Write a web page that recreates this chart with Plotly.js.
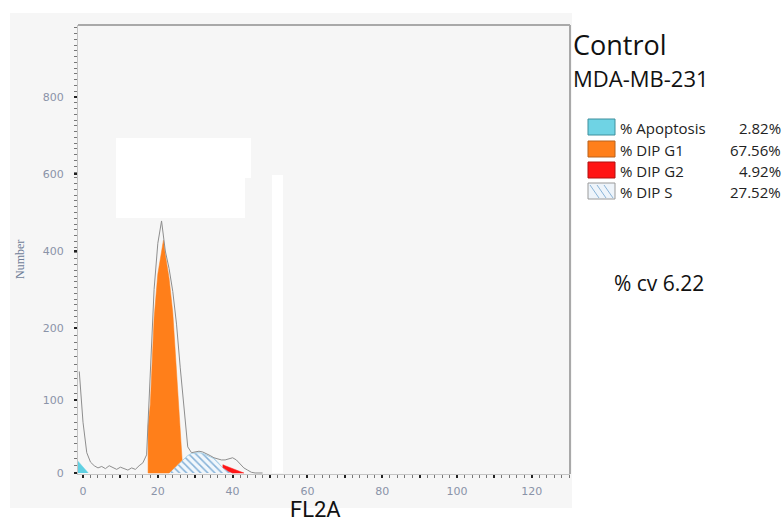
<!DOCTYPE html>
<html>
<head>
<meta charset="utf-8">
<script src="https://cdn.plot.ly/plotly-3.0.1.min.js"></script>
<style>
  html, body { margin: 0; padding: 0; background: #ffffff; }
  #chart { width: 783px; height: 523px; }
</style>
</head>
<body>
<div id="chart"></div>
<script>
// ---- DNA histogram (FL2A channel vs. event count) ----
const chan   = [-1, 0, 1, 2, 3, 4, 5, 6, 7, 8, 9, 10, 11, 12, 13, 14, 15, 16, 17, 18, 19, 20,
                21, 22, 23, 24, 25, 26, 27, 28, 29, 30, 31, 32, 33, 34, 35, 36, 37, 38, 39, 40,
                41, 42, 43, 44, 45, 46, 47, 48];
const counts = [140, 70, 28, 15, 10, 7, 9, 6, 10, 7, 5, 8, 6, 4, 7, 5, 10, 14, 25, 130, 300, 420,
                478, 400, 355, 295, 210, 145, 85, 36, 28, 29, 30, 29, 27, 24, 21, 19, 18, 18, 20, 21,
                18, 12, 7, 4, 1, 0, 0, 0];

// ---- fitted components ----
const apoX = [-2, 0, 1.4];
const apoY = [20, 9, 0];

const sX = [23, 24, 25, 26, 27, 28, 29, 30, 31, 32, 33, 34, 35, 36, 37, 38, 39, 40];
const sY = [0, 5, 10, 15, 20, 24, 27, 28, 28, 27, 25, 23, 20, 15, 9, 5, 2, 0];

const g1X = [17.4, 17.4, 18, 19, 20, 21, 21.5, 22, 23, 24, 25, 26, 26.5];
const g1Y = [0, 65, 95, 225, 340, 405, 428, 390, 330, 235, 130, 47, 0];

const g2X = [37.4, 37.4, 38, 39, 40, 41, 42, 43];
const g2Y = [0, 4, 5, 6, 6, 4, 2, 0];

// ---- legend / annotation text ----
const legendNames  = ['% Apoptosis', '% DIP G1', '% DIP G2', '% DIP S'];
const legendValues = ['2.82%', '67.56%', '4.92%', '27.52%'];
const cvText = '% cv 6.22';
const yTickVals = [0, 100, 200, 400, 600, 800];
const xTickVals = [0, 10, 20, 30, 40, 50, 60, 70, 80, 90, 100, 110, 120];

// y scale: linear to 200, compressed above 200
const K = 0.531;
const warp = v => (v <= 200 ? v : 200 + (v - 200) * K);

// S-phase level under the G1/G2 peaks (linear between channels)
function sAt(x) {
  if (x <= sX[0] || x >= sX[sX.length - 1]) return 0;
  for (let i = 0; i < sX.length - 1; i++) {
    if (x >= sX[i] && x <= sX[i + 1]) {
      const t = (x - sX[i]) / (sX[i + 1] - sX[i]);
      return sY[i] + t * (sY[i + 1] - sY[i]);
    }
  }
  return 0;
}

// polygon of a component stacked on the S phase
function stacked(xs, ys) {
  const top = xs.map((x, i) => [x, warp(sAt(x) + ys[i])]);
  const bot = xs.map(x => [x, warp(sAt(x))]).reverse();
  const pts = top.concat(bot);
  return { x: pts.map(p => p[0]), y: pts.map(p => p[1]) };
}

const g1Poly = stacked(g1X, g1Y);
const g2Poly = stacked(g2X, g2Y);

const traces = [
  { x: apoX, y: apoY.map(warp), type: 'scatter', mode: 'lines', fill: 'tozeroy',
    fillcolor: '#5fd0e2', line: { color: '#5fd0e2', width: 0.5 }, hoverinfo: 'skip' },
  { x: sX, y: sY.map(warp), type: 'scatter', mode: 'lines', fill: 'tozeroy',
    fillcolor: '#eef5fb',
    fillpattern: { shape: '\\', fgcolor: '#86b2d8', bgcolor: '#f1f7fc', size: 5, solidity: 0.3 },
    line: { color: '#a8d2ea', width: 1 }, hoverinfo: 'skip' },
  { x: g1Poly.x, y: g1Poly.y, type: 'scatter', mode: 'lines', fill: 'toself',
    fillcolor: '#ff7f1a', line: { color: '#ff7f1a', width: 0.5 }, hoverinfo: 'skip' },
  { x: g2Poly.x, y: g2Poly.y, type: 'scatter', mode: 'lines', fill: 'toself',
    fillcolor: '#ff1616', line: { color: '#ff1616', width: 0.5 }, hoverinfo: 'skip' },
  { x: chan, y: counts.map(warp), type: 'scatter', mode: 'lines',
    line: { color: '#8e8e8e', width: 1 }, hoverinfo: 'skip' }
];

// pixel -> paper helpers for the decorations (plot box: x 78..570, y 25..474)
const L = 78, R = 570, T = 25, B = 474;
const px = x => (x - L) / (R - L);
const py = y => (B - y) / (B - T);

const minorY = [];
for (let v = 10; v < 200; v += 10) minorY.push(warp(v));
for (let v = 215; v < 1000; v += 15) minorY.push(warp(v));

const shapes = [
  // grey panel behind the plot
  { type: 'rect', xref: 'paper', yref: 'paper', layer: 'below',
    x0: px(10), x1: px(572), y0: py(508), y1: py(13),
    fillcolor: '#f6f6f6', line: { width: 0 } },
  // blank patches inside the plot
  { type: 'rect', xref: 'paper', yref: 'paper', layer: 'below',
    x0: px(116), x1: px(251), y0: py(178), y1: py(138), fillcolor: '#ffffff', line: { width: 0 } },
  { type: 'rect', xref: 'paper', yref: 'paper', layer: 'below',
    x0: px(116), x1: px(245), y0: py(218), y1: py(177), fillcolor: '#ffffff', line: { width: 0 } },
  { type: 'rect', xref: 'paper', yref: 'paper', layer: 'below',
    x0: px(272), x1: px(283), y0: py(473), y1: py(175), fillcolor: '#ffffff', line: { width: 0 } },
  // top and right frame
  { type: 'line', xref: 'paper', yref: 'paper', x0: 0, x1: 1, y0: 1, y1: 1,
    line: { color: '#a9a9a9', width: 2 } },
  { type: 'line', xref: 'paper', yref: 'paper', x0: 1, x1: 1, y0: 0, y1: 1,
    line: { color: '#a9a9a9', width: 2 } }
];

// legend swatches
const swatchTops = [119, 141, 162, 183];
const swatchFill = ['#6fd3e4', '#ff7f1a', '#ff1414', '#eef4fa'];
const swatchLine = ['#3f8f9c', '#b8621c', '#b01010', '#9a9a9a'];
swatchTops.forEach((t, i) => {
  shapes.push({ type: 'rect', xref: 'paper', yref: 'paper',
    x0: px(588), x1: px(615), y0: py(t + 16), y1: py(t),
    fillcolor: swatchFill[i], line: { color: swatchLine[i], width: 1 } });
});
// hatch strokes in the S swatch
[[590, 600], [597, 607], [604, 614]].forEach(([a, b]) => {
  shapes.push({ type: 'line', xref: 'paper', yref: 'paper',
    x0: px(a), y0: py(185), x1: px(b - 1), y1: py(198),
    line: { color: '#8ab4d8', width: 1 } });
});

const annotations = [
  { text: 'Control', x: px(572), y: py(44), xref: 'paper', yref: 'paper',
    xanchor: 'left', yanchor: 'middle', showarrow: false, borderpad: 0,
    font: { family: 'Open Sans', size: 27, color: '#111' } },
  { text: 'MDA-MB-231', x: px(572), y: py(78), xref: 'paper', yref: 'paper',
    xanchor: 'left', yanchor: 'middle', showarrow: false, borderpad: 0,
    font: { family: 'Open Sans', size: 22, color: '#111' } },
  { text: cvText, x: px(612), y: py(283), xref: 'paper', yref: 'paper',
    xanchor: 'left', yanchor: 'middle', showarrow: false,
    font: { family: 'Open Sans', size: 21, color: '#111' } },
  { text: 'Number', x: px(20), y: py(260), xref: 'paper', yref: 'paper',
    xanchor: 'center', yanchor: 'middle', textangle: -90, showarrow: false,
    font: { family: 'Liberation Serif', size: 12, color: '#6f7d96' } },
  { text: 'FL2A', x: px(315), y: py(509), xref: 'paper', yref: 'paper',
    xanchor: 'center', yanchor: 'middle', showarrow: false,
    font: { family: 'Liberation Sans Narrow, Roboto', size: 22, color: '#111' } }
];
legendNames.forEach((n, i) => {
  const cy = swatchTops[i] + 9;
  annotations.push({ text: n, x: px(619), y: py(cy), xref: 'paper', yref: 'paper',
    xanchor: 'left', yanchor: 'middle', showarrow: false, borderpad: 0,
    font: { family: 'Open Sans', size: 15, color: '#222' } });
  annotations.push({ text: legendValues[i], x: px(782), y: py(cy), xref: 'paper', yref: 'paper',
    xanchor: 'right', yanchor: 'middle', showarrow: false, borderpad: 0,
    font: { family: 'Open Sans', size: 15, color: '#222' } });
});

const layout = {
  width: 783, height: 523,
  margin: { l: L, r: 783 - R, t: T, b: 523 - B, pad: 0 },
  paper_bgcolor: '#ffffff',
  plot_bgcolor: 'rgba(0,0,0,0)',
  showlegend: false,
  xaxis: {
    range: [-1.34, 130.2], showgrid: false, zeroline: false,
    showline: true, linecolor: '#c4c4c4', linewidth: 1,
    tickmode: 'array', tickvals: xTickVals,
    ticktext: xTickVals.map(v => (v % 20 === 0 ? String(v) : '')),
    ticks: 'outside', ticklen: 3, tickwidth: 2, tickcolor: '#222',
    ticklabelstandoff: 4,
    minor: { dtick: 2, tick0: 0, ticks: 'outside', ticklen: 3, tickwidth: 1, tickcolor: '#777' },
    tickfont: { family: 'DejaVu Sans', size: 11, color: '#8a93a8' }
  },
  yaxis: {
    range: [-1.4, 617.9], showgrid: false, zeroline: false,
    showline: true, linecolor: '#c4c4c4', linewidth: 1,
    tickmode: 'array', tickvals: yTickVals.map(warp), ticktext: yTickVals.map(String),
    ticks: 'outside', ticklen: 3, tickwidth: 2, tickcolor: '#222',
    ticklabelstandoff: 8,
    minor: { tickmode: 'array', tickvals: minorY, ticks: 'outside', ticklen: 3, tickwidth: 1, tickcolor: '#777' },
    tickfont: { family: 'DejaVu Sans', size: 11, color: '#8a93a8' }
  },
  shapes: shapes,
  annotations: annotations
};

Plotly.newPlot('chart', traces, layout, { staticPlot: true, displayModeBar: false });
</script>
</body>
</html>
